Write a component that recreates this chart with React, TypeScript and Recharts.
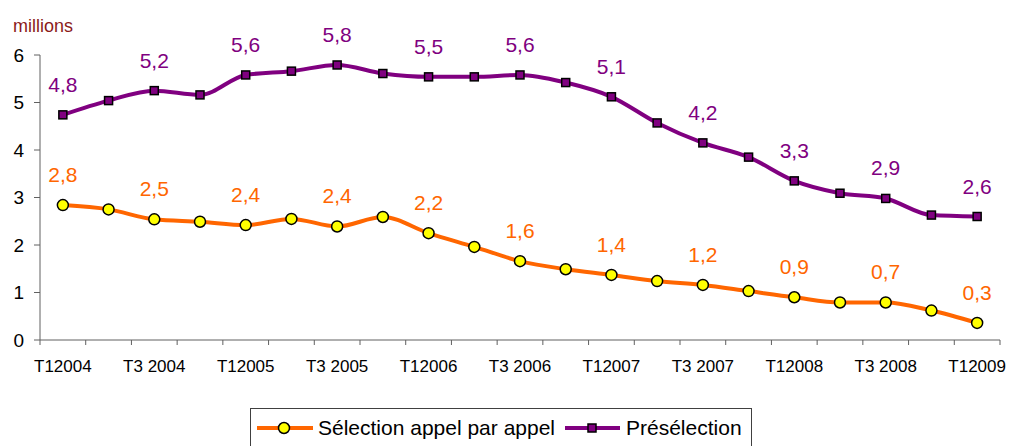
import { LineChart, Line, XAxis, YAxis, LabelList, Legend } from "recharts";

const FONT = "Arial, 'Liberation Sans', sans-serif";
const ORANGE = "#FF6600";
const PURPLE = "#800080";
const AXIS = "#606060";

const categories = [
  "T12004", "T2 2004", "T3 2004", "T4 2004",
  "T12005", "T2 2005", "T3 2005", "T4 2005",
  "T12006", "T2 2006", "T3 2006", "T4 2006",
  "T12007", "T2 2007", "T3 2007", "T4 2007",
  "T12008", "T2 2008", "T3 2008", "T4 2008",
  "T12009",
];

// millions de lignes
const selection = [
  2.84, 2.75, 2.54, 2.49, 2.42, 2.55, 2.39, 2.59, 2.25, 1.96, 1.66,
  1.49, 1.37, 1.24, 1.16, 1.03, 0.9, 0.79, 0.79, 0.62, 0.36,
];
const preselection = [
  4.74, 5.04, 5.25, 5.16, 5.58, 5.66, 5.79, 5.61, 5.54, 5.54, 5.58,
  5.42, 5.12, 4.57, 4.15, 3.85, 3.35, 3.09, 2.98, 2.63, 2.6,
];

// valeurs affichées, un trimestre sur deux (T1 et T3)
const selectionLabels = [2.8, 2.5, 2.4, 2.4, 2.2, 1.6, 1.4, 1.2, 0.9, 0.7, 0.3];
const preselectionLabels = [4.8, 5.2, 5.6, 5.8, 5.5, 5.6, 5.1, 4.2, 3.3, 2.9, 2.6];

const yTicks = [0, 1, 2, 3, 4, 5, 6];

const fmt = (v: number) => v.toFixed(1).replace(".", ",");

const data = categories.map((cat, i) => ({
  idx: i,
  cat,
  sel: selection[i],
  pre: preselection[i],
  selLabel: i % 2 === 0 ? fmt(selectionLabels[i / 2]) : undefined,
  preLabel: i % 2 === 0 ? fmt(preselectionLabels[i / 2]) : undefined,
}));

// ticks at category boundaries (half steps) + label positions (integers)
const xTicks = categories.flatMap((_, i) => [i - 0.5, i]).concat(categories.length - 0.5);

const TICK_SIZE = 5;
const TICK_MARGIN = 15;

function QuarterTick(props: any) {
  const { x, y, payload } = props;
  const v = payload.value;
  if (!Number.isInteger(v)) {
    const axisY = y - TICK_SIZE - TICK_MARGIN;
    return <line x1={x} x2={x} y1={axisY} y2={axisY + TICK_SIZE} stroke={AXIS} strokeWidth={1} />;
  }
  if (v % 2 !== 0) return <g />;
  return (
    <text x={x} y={y} dy="0.71em" textAnchor="middle" fontSize={17} fill="#000">
      {categories[v]}
    </text>
  );
}

function squareDot(props: any) {
  const { cx, cy, index } = props;
  return (
    <rect key={`sq-${index}`} x={cx - 4} y={cy - 4} width={8} height={8} fill={PURPLE} stroke="#000" strokeWidth={1.5} />
  );
}

function LegendBox() {
  return (
    <div
      style={{
        width: 502,
        height: 40,
        boxSizing: "border-box",
        border: "1px solid #404040",
        display: "flex",
        alignItems: "center",
        paddingLeft: 6,
        fontSize: 21,
        fontFamily: FONT,
        color: "#000",
        whiteSpace: "nowrap",
        background: "#fff",
      }}
    >
      <svg width={56} height={14}>
        <line x1={0} x2={56} y1={7} y2={7} stroke={ORANGE} strokeWidth={4} />
        <circle cx={27} cy={7} r={5.5} fill="#FFFF00" stroke="#000" strokeWidth={1.5} />
      </svg>
      <span style={{ marginLeft: 5 }}>Sélection appel par appel</span>
      <svg width={55} height={14} style={{ marginLeft: 10 }}>
        <line x1={0} x2={55} y1={7} y2={7} stroke={PURPLE} strokeWidth={4} />
        <rect x={23} y={3} width={8} height={8} fill={PURPLE} stroke="#000" strokeWidth={1.5} />
      </svg>
      <span style={{ marginLeft: 6 }}>Présélection</span>
    </div>
  );
}

export default function App() {
  return (
    <div style={{ position: "absolute", left: 0, top: 0, width: 1010, height: 446, background: "#fff", fontFamily: FONT, overflow: "hidden" }}>
      <div style={{ position: "absolute", left: 13, top: 16, fontSize: 18, lineHeight: "20px", color: "#8B1A1A" }}>
        millions
      </div>
      <LineChart width={1010} height={446} data={data} margin={{ top: 55, right: 10, left: 0, bottom: 76 }}>
        <XAxis
          dataKey="idx"
          type="number"
          domain={[-0.5, 20.5]}
          ticks={xTicks}
          interval={0}
          height={30}
          tickSize={TICK_SIZE}
          tickMargin={TICK_MARGIN}
          tickLine={false}
          axisLine={{ stroke: AXIS }}
          tick={<QuarterTick />}
        />
        <YAxis
          domain={[0, 6]}
          ticks={yTicks}
          interval={0}
          width={40}
          tickSize={6}
          tickMargin={10}
          axisLine={{ stroke: AXIS }}
          tickLine={{ stroke: AXIS }}
          tick={{ fontSize: 19, fill: "#000" }}
        />
        <Line
          dataKey="sel"
          name="Sélection appel par appel"
          type="monotone"
          stroke={ORANGE}
          strokeWidth={4}
          dot={{ r: 5.5, fill: "#FFFF00", stroke: "#000", strokeWidth: 1.5 }}
          isAnimationActive={false}
        >
          <LabelList dataKey="selLabel" position="top" offset={23} fill={ORANGE} fontSize={21} />
        </Line>
        <Line
          dataKey="pre"
          name="Présélection"
          type="monotone"
          stroke={PURPLE}
          strokeWidth={4}
          dot={squareDot}
          isAnimationActive={false}
        >
          <LabelList dataKey="preLabel" position="top" offset={23} fill={PURPLE} fontSize={21} />
        </Line>
        <Legend
          verticalAlign="middle"
          align="center"
          layout="horizontal"
          wrapperStyle={{ top: 408, left: 250, width: "auto", height: "auto" }}
          content={() => <LegendBox />}
        />
      </LineChart>
    </div>
  );
}
